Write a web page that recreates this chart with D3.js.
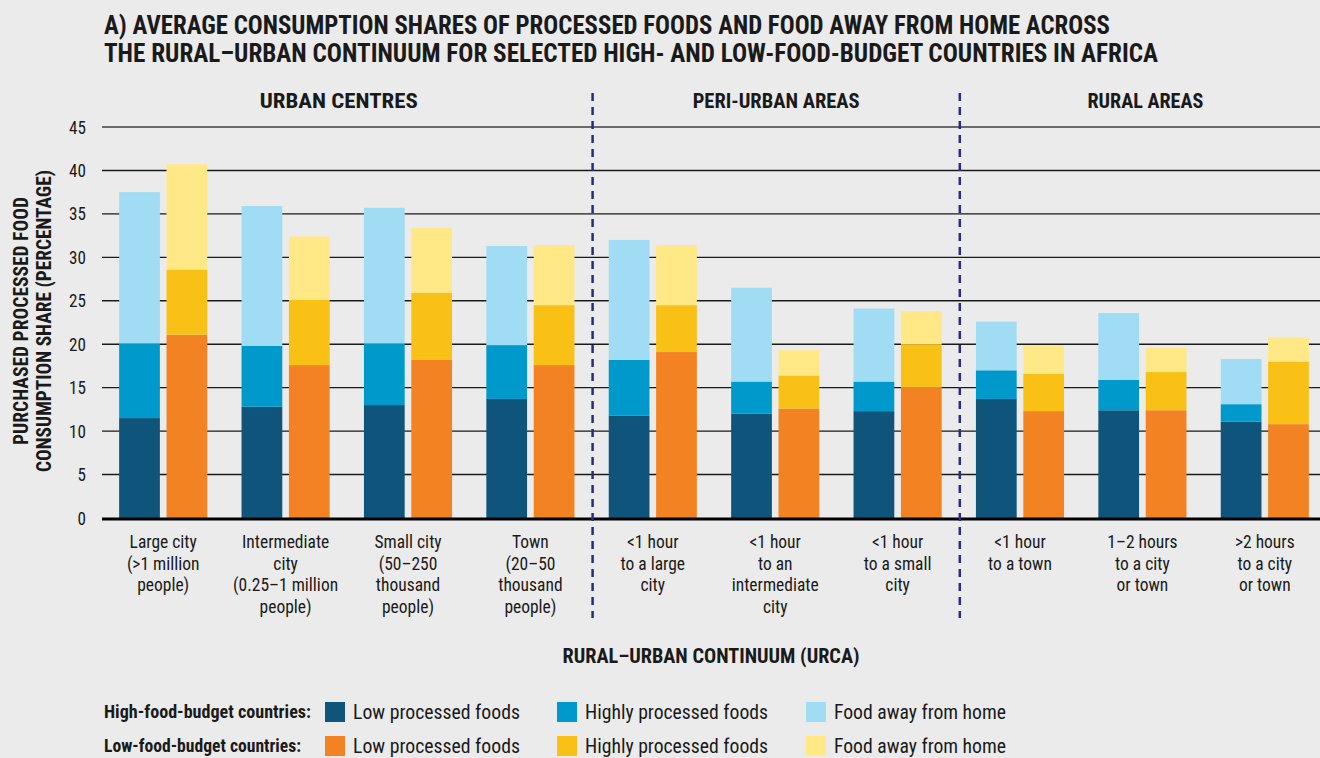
<!DOCTYPE html>
<html>
<head>
<meta charset="utf-8">
<script src="https://cdn.jsdelivr.net/npm/d3@7"></script>
<style>
  html, body { margin: 0; padding: 0; background: #ebebeb; }
  svg { display: block; }
  text { font-family: "Liberation Sans Narrow", "Roboto Condensed", "DejaVu Sans Condensed", Roboto, "Liberation Sans", sans-serif; fill: #1a1a1a; }
</style>
</head>
<body>
<svg id="chart" width="1320" height="758"></svg>
<script>
// Categories along the rural–urban continuum (multi-line labels)
const categories = [
  ["Large city", "(>1 million", "people)"],
  ["Intermediate", "city", "(0.25\u20131 million", "people)"],
  ["Small city", "(50\u2013250", "thousand", "people)"],
  ["Town", "(20\u201350", "thousand", "people)"],
  ["<1 hour", "to a large", "city"],
  ["<1 hour", "to an", "intermediate", "city"],
  ["<1 hour", "to a small", "city"],
  ["<1 hour", "to a town"],
  ["1\u20132 hours", "to a city", "or town"],
  [">2 hours", "to a city", "or town"]
];

// Zones of the continuum: name and number of categories in each
const zones = ["URBAN CENTRES", "PERI-URBAN AREAS", "RURAL AREAS"];
const zoneSizes = [4, 3, 3];

// High-food-budget countries (% of food consumption)
const highLowProcessed    = [11.5, 12.8, 13.0, 13.7, 11.8, 12.0, 12.3, 13.7, 12.4, 11.1];
const highHighlyProcessed = [ 8.6,  7.0,  7.1,  6.2,  6.4,  3.7,  3.4,  3.3,  3.5,  2.0];
const highAwayFromHome    = [17.4, 16.1, 15.6, 11.4, 13.8, 10.8,  8.4,  5.6,  7.7,  5.2];

// Low-food-budget countries (% of food consumption)
const lowLowProcessed     = [21.1, 17.6, 18.2, 17.6, 19.1, 12.6, 15.1, 12.3, 12.4, 10.8];
const lowHighlyProcessed  = [ 7.5,  7.5,  7.7,  6.9,  5.4,  3.8,  4.9,  4.3,  4.4,  7.2];
const lowAwayFromHome     = [12.1,  7.3,  7.5,  6.9,  6.9,  2.9,  3.8,  3.3,  2.8,  2.8];

const yTicks = [0, 5, 10, 15, 20, 25, 30, 35, 40, 45];

const groups = [
  { key: "high", label: "High-food-budget countries:",
    series: [highLowProcessed, highHighlyProcessed, highAwayFromHome],
    colors: ["#0f547a", "#0099cc", "#a0dcf3"] },
  { key: "low", label: "Low-food-budget countries:",
    series: [lowLowProcessed, lowHighlyProcessed, lowAwayFromHome],
    colors: ["#f38223", "#f9c116", "#ffe885"] }
];
const seriesNames = ["Low processed foods", "Highly processed foods", "Food away from home"];

const svg = d3.select("#chart");
const W = 1320;
const plotLeft = 102, plotRight = 1326, plotTop = 127, plotBottom = 518;

const idx = d3.range(categories.length);
const x0 = d3.scaleBand().domain(idx).range([plotLeft, plotRight])
  .paddingInner(0.28).paddingOuter(0.14);
const x1 = d3.scaleBand().domain(groups.map(g => g.key)).range([0, x0.bandwidth()]).paddingInner(0.14);
const y = d3.scaleLinear().domain([0, 45]).range([plotBottom, plotTop]);

// Condensed text helpers: squeeze glyphs horizontally
function condense(sel, factor) {
  sel.each(function () {
    const w = this.getComputedTextLength();
    if (w > 0) {
      d3.select(this).attr("textLength", w * factor).attr("lengthAdjust", "spacingAndGlyphs");
    }
  });
}
function fitWidth(sel, target) {
  sel.attr("textLength", target).attr("lengthAdjust", "spacingAndGlyphs");
}

// Title
const title = svg.append("g");
title.append("text").attr("x", 104).attr("y", 34)
  .attr("font-size", 25).attr("font-weight", "bold")
  .text("A) AVERAGE CONSUMPTION SHARES OF PROCESSED FOODS AND FOOD AWAY FROM HOME ACROSS")
  .call(fitWidth, 1006);
title.append("text").attr("x", 104).attr("y", 62)
  .attr("font-size", 25).attr("font-weight", "bold")
  .text("THE RURAL\u2013URBAN CONTINUUM FOR SELECTED HIGH- AND LOW-FOOD-BUDGET COUNTRIES IN AFRICA")
  .call(fitWidth, 1054);

// Gridlines
const grid = svg.append("g");
grid.selectAll("line").data(yTicks.filter(t => t > 0)).join("line")
  .attr("x1", plotLeft).attr("x2", W)
  .attr("y1", d => y(d)).attr("y2", d => y(d))
  .attr("stroke", d => d === 45 ? "#6b6b6b" : "#1a1a1a")
  .attr("stroke-width", d => d === 45 ? 2 : 1.4);

// Y axis tick labels
const yAxis = d3.axisLeft(y).tickValues(yTicks).tickSize(0).tickPadding(16);
const yG = svg.append("g").attr("transform", `translate(${plotLeft},0)`).call(yAxis);
yG.select(".domain").remove();
yG.attr("font-family", null).attr("font-size", null);
yG.selectAll("text").attr("font-size", 19).attr("fill", "#1a1a1a").call(condense, 0.9);

// Y axis title
const yTitle = svg.append("text")
  .attr("transform", "translate(0,321) rotate(-90)")
  .attr("text-anchor", "middle").attr("font-size", 19.5).attr("font-weight", "bold");
yTitle.append("tspan").attr("x", 0).attr("y", 28).text("PURCHASED PROCESSED FOOD");
yTitle.append("tspan").attr("x", 0).attr("y", 51).text("CONSUMPTION SHARE (PERCENTAGE)");
fitWidth(yTitle.select("tspan:nth-child(1)"), 248);
fitWidth(yTitle.select("tspan:nth-child(2)"), 302);

// Stacked bars
const barsG = svg.append("g");
groups.forEach(g => {
  const stackData = idx.map(i => {
    const o = { i };
    g.series.forEach((s, k) => { o["s" + k] = s[i]; });
    return o;
  });
  const stacked = d3.stack().keys(["s0", "s1", "s2"])(stackData);
  stacked.forEach((layer, k) => {
    barsG.append("g").attr("fill", g.colors[k])
      .selectAll("rect").data(layer).join("rect")
      .attr("x", d => x0(d.data.i) + x1(g.key))
      .attr("width", x1.bandwidth())
      .attr("y", d => y(d[1]))
      .attr("height", d => y(d[0]) - y(d[1]));
  });
});

// Baseline
svg.append("line").attr("x1", plotLeft).attr("x2", W)
  .attr("y1", y(0) + 1).attr("y2", y(0) + 1)
  .attr("stroke", "#000").attr("stroke-width", 3);

// Zone dividers and headers
const zoneWidths = [158, 167, 116];
const zoneShift = [-8, 1, 3];
let start = 0;
zones.forEach((z, zi) => {
  const n = zoneSizes[zi];
  const left = zi === 0 ? plotLeft : (x0(start - 1) + x0.bandwidth() + x0(start)) / 2;
  const right = zi === zones.length - 1 ? plotRight : (x0(start + n - 1) + x0.bandwidth() + x0(start + n)) / 2;
  svg.append("text").attr("x", (left + right) / 2 + zoneShift[zi]).attr("y", 108)
    .attr("text-anchor", "middle").attr("font-size", 19.5).attr("font-weight", "bold")
    .text(z).call(fitWidth, zoneWidths[zi]);
  if (zi < zones.length - 1) {
    svg.append("line").attr("x1", right + 1).attr("x2", right + 1)
      .attr("y1", 93).attr("y2", 618)
      .attr("stroke", "#2b2a84").attr("stroke-width", 2.5)
      .attr("stroke-dasharray", "8,6");
  }
  start += n;
});

// Category labels
const catG = svg.append("g");
idx.forEach(i => {
  const t = catG.append("text").attr("text-anchor", "middle").attr("font-size", 19);
  categories[i].forEach((line, li) => {
    t.append("tspan").attr("x", x0(i) + x0.bandwidth() / 2).attr("y", 548 + li * 21.5).text(line);
  });
  t.selectAll("tspan").call(condense, 0.92);
});

// X axis title
svg.append("text").attr("x", 711).attr("y", 663).attr("text-anchor", "middle")
  .attr("font-size", 19.5).attr("font-weight", "bold")
  .text("RURAL\u2013URBAN CONTINUUM (URCA)").call(fitWidth, 297);

// Legend
const legend = svg.append("g");
const swatchX = [325, 557, 806];
const nameWidths = [167, 183, 172];
groups.forEach((g, r) => {
  const cy = 712 + r * 34;
  legend.append("text").attr("x", 104).attr("y", cy + 6)
    .attr("font-size", 17.5).attr("font-weight", "bold").text(g.label)
    .call(fitWidth, r === 0 ? 207 : 197);
  seriesNames.forEach((name, k) => {
    legend.append("rect").attr("x", swatchX[k]).attr("y", cy - 10)
      .attr("width", 20).attr("height", 20).attr("fill", g.colors[k]);
    legend.append("text").attr("x", swatchX[k] + 28).attr("y", cy + 7)
      .attr("font-size", 20).text(name).call(fitWidth, nameWidths[k]);
  });
});
</script>
</body>
</html>
